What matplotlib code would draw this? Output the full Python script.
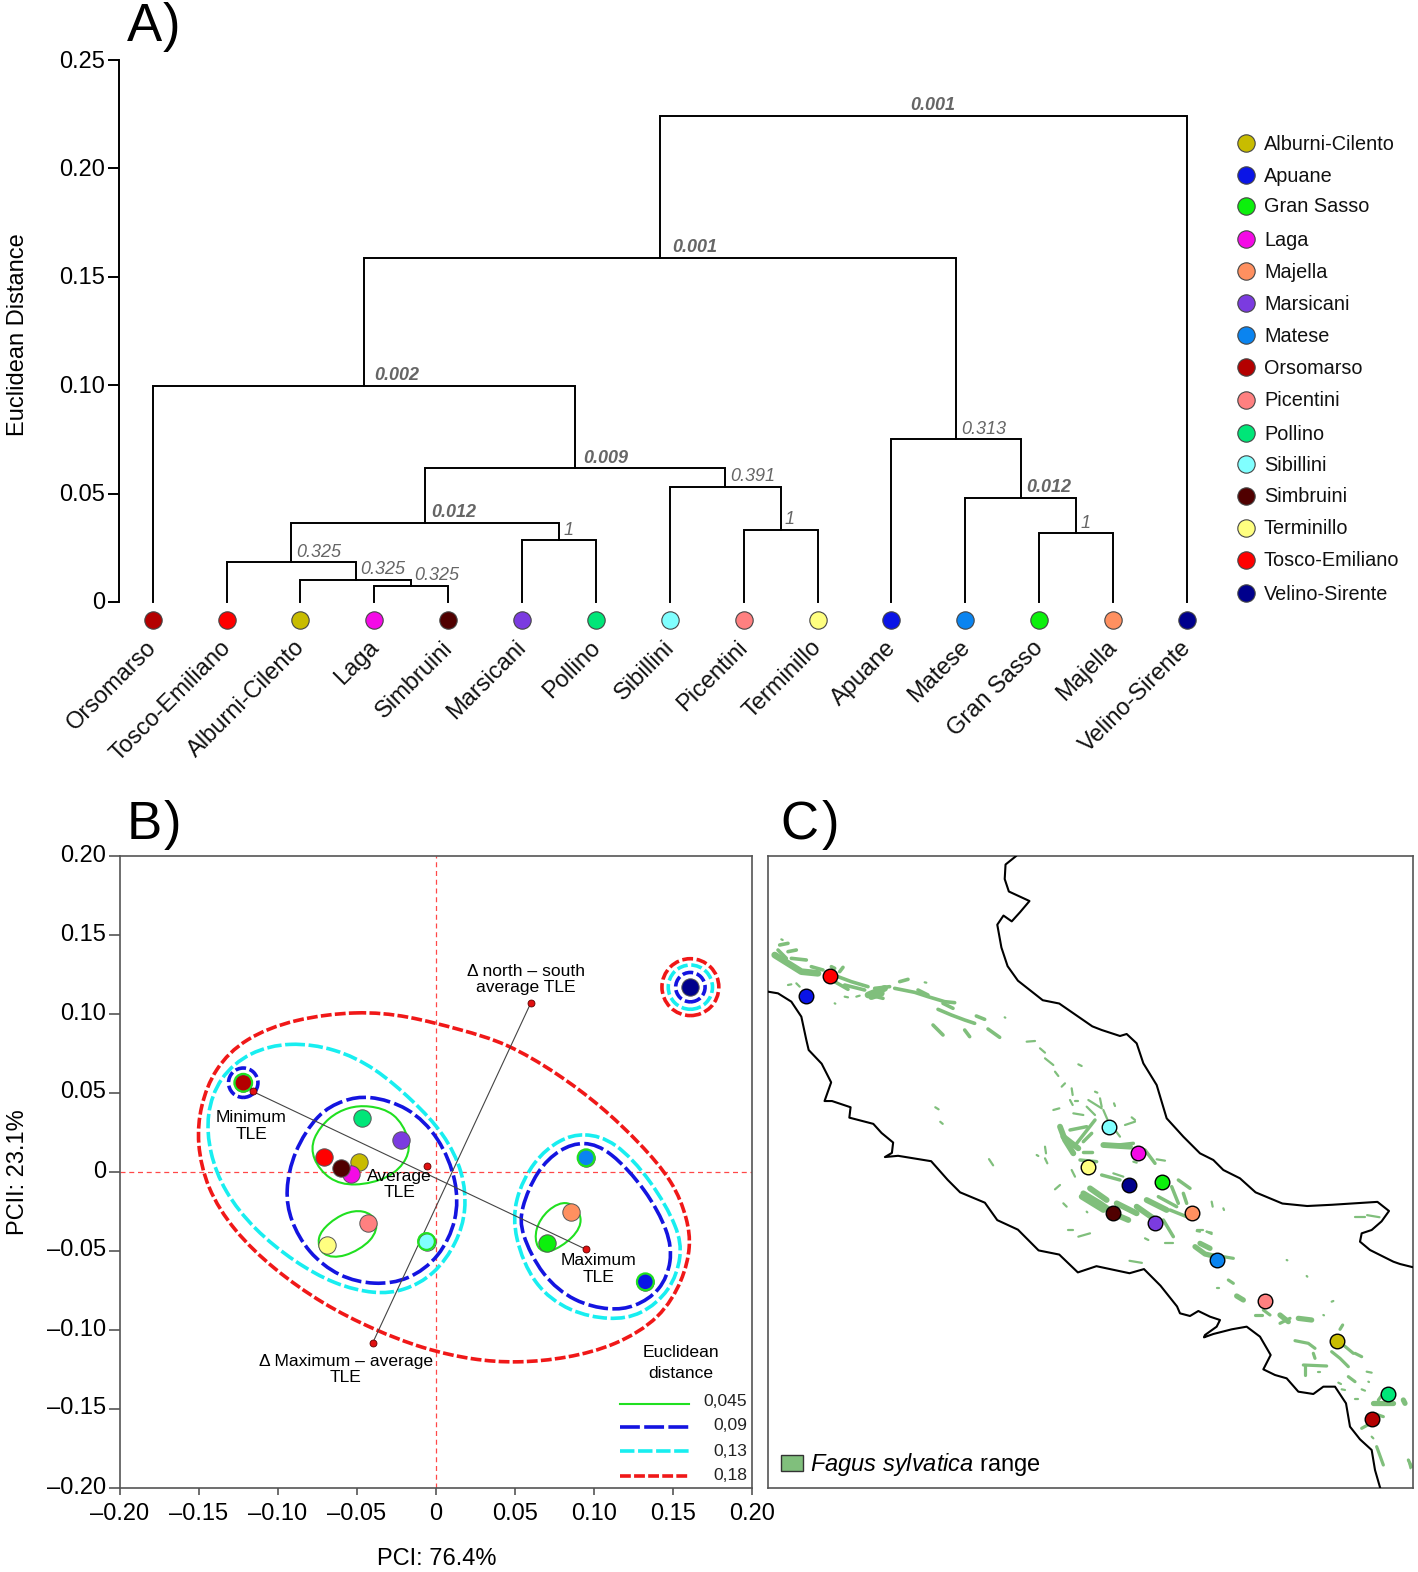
import numpy as np
import matplotlib
matplotlib.use('Agg')
import matplotlib.pyplot as plt
from matplotlib.path import Path
from matplotlib.patches import PathPatch, Circle, Rectangle
from matplotlib.transforms import ScaledTranslation

plt.rcParams['font.family'] = ['Liberation Sans', 'DejaVu Sans']
plt.rcParams['mathtext.fontset'] = 'custom'
plt.rcParams['mathtext.it'] = 'Liberation Sans:italic'
plt.rcParams['mathtext.rm'] = 'Liberation Sans'

W, H = 1418, 1572

# ---- data
legend_names = ['Alburni-Cilento', 'Apuane', 'Gran Sasso', 'Laga', 'Majella', 'Marsicani', 'Matese', 'Orsomarso',
                'Picentini', 'Pollino', 'Sibillini', 'Simbruini', 'Terminillo', 'Tosco-Emiliano', 'Velino-Sirente']
legend_y = [143, 175, 206, 239, 271, 303, 335, 367, 400, 433, 464, 496, 528, 560, 593]
colors = {'Alburni-Cilento': '#c8bc00', 'Apuane': '#0a14e6', 'Gran Sasso': '#0cf00c', 'Laga': '#f40ae6',
          'Majella': '#ff9060', 'Marsicani': '#7b3be0', 'Matese': '#0a84f0', 'Orsomarso': '#b40000',
          'Picentini': '#ff8080', 'Pollino': '#00e678', 'Sibillini': '#80ffff', 'Simbruini': '#500000',
          'Terminillo': '#ffff80', 'Tosco-Emiliano': '#ff0000', 'Velino-Sirente': '#00008c'}

leaves = ['Orsomarso', 'Tosco-Emiliano', 'Alburni-Cilento', 'Laga', 'Simbruini', 'Marsicani', 'Pollino', 'Sibillini',
          'Picentini', 'Terminillo', 'Apuane', 'Matese', 'Gran Sasso', 'Majella', 'Velino-Sirente']
# children ids (0-14 leaves, 15+ merges in order), height, support, bold, label x shift in px
merge_a = [3, 2, 1, 5, 17, 8, 7, 19, 0, 12, 11, 10, 23, 27]
merge_b = [4, 15, 16, 6, 18, 9, 20, 21, 22, 13, 24, 25, 26, 14]
merge_h = [0.0076, 0.0103, 0.0184, 0.0286, 0.0366, 0.0334, 0.0532, 0.0617, 0.0998, 0.0316, 0.0482, 0.0751, 0.1588, 0.2244]
merge_lab = ['0.325', '0.325', '0.325', '1', '0.012', '1', '0.391', '0.009', '0.002', '1', '0.012', '0.313', '0.001', '0.001']
merge_bold = [0, 0, 0, 0, 1, 0, 0, 1, 1, 0, 1, 0, 1, 1]
merge_shift = [3, 4, 5, 4, 6, 4, 5, 8, 10, 4, 5, 5, 12, -13]

pca_names = ['Orsomarso', 'Tosco-Emiliano', 'Alburni-Cilento', 'Laga', 'Simbruini', 'Marsicani', 'Pollino', 'Sibillini',
             'Picentini', 'Terminillo', 'Apuane', 'Matese', 'Gran Sasso', 'Majella', 'Velino-Sirente']
pca_x = [-0.122, -0.071, -0.049, -0.054, -0.060, -0.022, -0.047, -0.006, -0.043, -0.069, 0.1325, 0.095, 0.070, 0.0855, 0.161]
pca_y = [0.0565, 0.0095, 0.0065, -0.001, 0.0025, 0.020, 0.034, -0.044, -0.032, -0.046, -0.0695, 0.009, -0.045, -0.025, 0.117]

red_hull = [(-0.049, 0.101), (-0.018, 0.098), (0.016, 0.089), (0.044, 0.081), (0.076, 0.062), (0.104, 0.041),
            (0.128, 0.018), (0.149, -0.006), (0.158, -0.030), (0.160, -0.047), (0.155, -0.068), (0.141, -0.092),
            (0.113, -0.109), (0.082, -0.117), (0.051, -0.120), (0.023, -0.118), (-0.008, -0.111), (-0.039, -0.099),
            (-0.071, -0.083), (-0.102, -0.061), (-0.127, -0.037), (-0.144, -0.010), (-0.150, 0.018), (-0.148, 0.041),
            (-0.139, 0.065), (-0.120, 0.084), (-0.089, 0.096)]
cyan_left = [(-0.092, 0.081), (-0.064, 0.077), (-0.039, 0.065), (-0.015, 0.044), (0.004, 0.024), (0.016, 0),
             (0.018, -0.024), (0.012, -0.044), (-0.002, -0.064), (-0.021, -0.074), (-0.039, -0.076), (-0.064, -0.070),
             (-0.089, -0.056), (-0.114, -0.036), (-0.133, -0.012), (-0.142, 0.012), (-0.144, 0.036), (-0.136, 0.059),
             (-0.117, 0.075)]
blue_left = [(-0.043, 0.047), (-0.018, 0.040), (0.001, 0.021), (0.012, -0.006), (0.012, -0.030), (0.001, -0.053),
             (-0.018, -0.067), (-0.039, -0.070), (-0.061, -0.065), (-0.080, -0.050), (-0.091, -0.030), (-0.094, -0.012),
             (-0.089, 0.012), (-0.074, 0.036), (-0.058, 0.044)]
cyan_right = [(0.094, 0.023), (0.113, 0.018), (0.135, -0.006), (0.152, -0.036), (0.154, -0.053), (0.147, -0.074),
              (0.129, -0.089), (0.110, -0.092), (0.085, -0.087), (0.063, -0.071), (0.051, -0.041), (0.051, -0.018),
              (0.063, 0.006), (0.079, 0.019)]
blue_right = [(0.094, 0.018), (0.110, 0.012), (0.132, -0.012), (0.146, -0.038), (0.148, -0.056), (0.141, -0.074),
              (0.125, -0.084), (0.110, -0.086), (0.088, -0.081), (0.068, -0.065), (0.055, -0.038), (0.055, -0.024),
              (0.065, 0), (0.079, 0.013)]
green_big = [(-0.043, 0.041), (-0.027, 0.037), (-0.018, 0.021), (-0.019, 0.009), (-0.030, -0.003), (-0.052, -0.008),
             (-0.067, -0.004), (-0.077, 0.009), (-0.077, 0.021), (-0.067, 0.034), (-0.055, 0.040)]
green_low = [(-0.047, -0.025), (-0.038, -0.031), (-0.041, -0.043), (-0.058, -0.053), (-0.071, -0.052), (-0.074, -0.041),
             (-0.067, -0.033), (-0.058, -0.027)]
green_right = [(0.083, -0.019), (0.092, -0.030), (0.086, -0.041), (0.072, -0.050), (0.065, -0.047), (0.064, -0.036),
               (0.071, -0.025)]

tle_x = [-0.116, 0.095]
tle_y = [0.051, -0.049]
ns_x = [0.060, -0.040]
ns_y = [0.107, -0.108]
avg_xy = (-0.006, 0.0035)

ticks_b = [-0.20, -0.15, -0.10, -0.05, 0, 0.05, 0.10, 0.15, 0.20]
ticklabels_b = ['\u20130.20', '\u20130.15', '\u20130.10', '\u20130.05', '0', '0.05', '0.10', '0.15', '0.20']
ticks_a = [0, 0.05, 0.10, 0.15, 0.20, 0.25]
ticklabels_a = ['0', '0.05', '0.10', '0.15', '0.20', '0.25']

CROP_ALL = (770, 850, 2.42, 2.41)
CROP_N = (768, 930, 3, 3)
CROP_C = (1020, 1030, 3, 3)
CROP_S = (1180, 1230, 3, 3)

ne_1 = [(595, 15), (570, 35), (568, 70), (578, 100), (628, 123), (605, 150), (585, 172), (565, 158), (550, 180),
        (560, 235), (575, 280), (600, 315), (660, 362), (700, 370), (780, 425)]
ne_2 = [(245, 0), (300, 18), (320, 12), (350, 40), (370, 100), (410, 165), (440, 265), (490, 320), (540, 370),
        (580, 390), (610, 420), (660, 445)]
ne_3 = [(1175, 825), (1240, 852), (1300, 858), (1360, 855), (1470, 848), (1498, 870), (1480, 895)]
ne_4 = [(575, 0), (545, 10), (540, 35), (570, 60), (640, 95), (660, 102), (700, 112)]
sw_1 = [(0, 185), (30, 190), (70, 215), (100, 260), (115, 330), (122, 360)]
sw_2 = [(125, 515), (148, 560), (132, 605), (150, 605), (195, 620), (192, 645), (250, 660), (270, 682), (298, 705),
        (295, 730), (278, 740), (310, 737), (390, 750), (430, 795), (460, 825), (520, 850), (550, 892), (600, 915),
        (650, 965), (700, 975), (745, 1018), (790, 1003), (870, 1020), (905, 1010), (945, 1050), (985, 1100)]
sw_3 = [(0, 250), (30, 258), (55, 243), (90, 260), (120, 270), (110, 290), (75, 315), (72, 322), (100, 312), (155, 298),
        (200, 290), (240, 320), (272, 375), (250, 418), (285, 435), (320, 445), (355, 485), (400, 492), (430, 470),
        (465, 470), (498, 520), (510, 590), (540, 628), (575, 660), (585, 720), (600, 772)]

north_thick = [[(20, 75), (60, 100), (100, 125), (150, 130)], [(300, 195), (350, 175)], [(310, 200), (340, 190)]]
north_mid = [[(35, 45), (60, 40)], [(30, 60), (55, 85)], [(60, 65), (85, 60)], [(70, 85), (115, 90)], [(130, 110), (165, 120)],
             [(190, 110), (200, 115)], [(215, 125), (225, 112)], [(210, 140), (250, 155), (300, 170)], [(200, 155), (240, 178)],
             [(230, 165), (290, 180)], [(305, 195), (345, 205)], [(320, 175), (365, 170)],
             [(380, 175), (440, 187), (480, 200), (530, 215), (560, 218)], [(450, 180), (480, 195)], [(395, 155), (420, 148)],
             [(510, 238), (550, 255), (590, 270), (620, 280)], [(525, 220), (555, 235)], [(495, 285), (525, 315)],
             [(590, 300), (605, 320)], [(625, 258), (650, 268)], [(660, 297), (695, 322)]]
north_thin = [[(60, 165), (70, 163)], [(85, 160), (95, 170)], [(230, 200), (240, 202)], [(265, 200), (275, 197)],
              [(470, 157), (475, 158)], [(200, 220), (202, 221)], [(710, 262), (712, 263)], [(120, 195), (130, 205)], [(40, 28), (44, 30)]]

center_thick = [[(120, 290), (135, 330), (160, 370)], [(130, 320), (175, 355)], [(190, 490), (240, 520), (290, 555), (325, 570)],
                [(185, 500), (250, 540)], [(210, 475), (260, 510)], [(290, 520), (350, 550)], [(350, 530), (400, 565)],
                [(380, 510), (440, 540)], [(250, 345), (330, 350)]]
center_mid = [[(170, 340), (225, 270)], [(190, 335), (215, 310)], [(150, 300), (200, 290)], [(190, 365), (215, 365)],
              [(180, 390), (230, 395)], [(245, 435), (300, 450)], [(295, 345), (340, 340)], [(375, 360), (405, 400)],
              [(430, 570), (460, 620)], [(415, 500), (470, 530)], [(455, 470), (475, 520)], [(475, 450), (510, 475)],
              [(490, 490), (500, 520)], [(450, 540), (500, 560)]]
center_thin = [[(20, 35), (45, 33)], [(60, 55), (75, 68)], [(75, 85), (100, 105)], [(105, 125), (115, 138)], [(175, 103), (185, 108)],
               [(125, 170), (135, 160)], [(155, 175), (158, 195)], [(150, 210), (158, 225)], [(100, 240), (118, 235)],
               [(165, 212), (175, 212)], [(200, 230), (225, 255)], [(205, 210), (245, 235)], [(240, 205), (245, 230)],
               [(160, 250), (190, 255)], [(225, 185), (232, 188)], [(282, 220), (285, 228)], [(250, 240), (262, 268)],
               [(155, 420), (165, 440)], [(280, 430), (310, 440)], [(285, 300), (300, 320)], [(315, 285), (345, 275)],
               [(335, 262), (345, 270)], [(410, 388), (435, 392)], [(340, 395), (350, 398)], [(75, 350), (78, 370)],
               [(50, 375), (55, 378)], [(75, 385), (82, 400)], [(105, 478), (120, 465)], [(130, 520), (140, 530)],
               [(575, 515), (578, 530)], [(610, 535), (612, 540)], [(530, 600), (550, 600)], [(560, 605), (575, 612)],
               [(145, 600), (160, 600)], [(175, 620), (210, 610)], [(375, 625), (385, 630)], [(435, 640), (460, 640)],
               [(200, 545), (202, 547)]]

south_thick = [[(45, 50), (75, 72), (100, 78)], [(60, 40), (90, 55)], [(170, 198), (190, 210)], [(300, 255), (325, 275)],
               [(355, 265), (395, 270)], [(580, 520), (640, 520)], [(670, 510), (675, 520)]]
south_mid = [[(130, 80), (160, 85)], [(145, 150), (160, 160)], [(225, 255), (245, 255)], [(250, 240), (270, 255)],
             [(300, 280), (330, 265)], [(345, 332), (385, 340), (405, 355)], [(400, 370), (405, 385)], [(370, 405), (440, 408)],
             [(375, 405), (375, 435)], [(455, 365), (480, 385), (505, 410)], [(490, 345), (520, 370)], [(525, 370), (545, 380)],
             [(505, 440), (525, 455)], [(610, 490), (595, 510)], [(545, 595), (590, 570)], [(580, 550), (610, 560)],
             [(590, 650), (610, 705)], [(685, 690), (695, 710)], [(480, 298), (488, 285)]]
south_thin = [[(80, 5), (95, 8)], [(50, 3), (60, 5)], [(110, 173), (118, 173)], [(430, 255), (432, 256)], [(455, 215), (460, 213)],
              [(380, 138), (382, 140)], [(320, 90), (322, 91)], [(415, 425), (420, 425)], [(560, 425), (575, 428)],
              [(475, 458), (483, 462)], [(545, 478), (555, 482)], [(485, 478), (495, 480)], [(525, 508), (535, 508)],
              [(575, 620), (580, 625)], [(565, 455), (567, 456)]]
other_thin = [[(1415, 885), (1440, 885)], [(1445, 880), (1475, 885)], [(870, 990), (900, 995)], [(400, 620), (408, 625)],
              [(412, 655), (418, 660)], [(530, 745), (540, 760)], [(1545, 1470), (1550, 1490)]]

map_names = ['Tosco-Emiliano', 'Apuane', 'Sibillini', 'Laga', 'Terminillo', 'Velino-Sirente', 'Gran Sasso', 'Simbruini',
             'Marsicani', 'Majella', 'Matese', 'Picentini', 'Alburni-Cilento', 'Pollino', 'Orsomarso']
map_x = [146, 86, 820, 890, 770, 869, 948, 831, 931, 1021, 1082, 1198, 1372, 1496, 1458]
map_y = [303, 351, 667, 730, 765, 808, 799, 876, 899, 875, 988, 1087, 1183, 1312, 1372]


def axes_px(fig, left, top, right, bottom):
    return fig.add_axes([left / W, 1 - bottom / H, (right - left) / W, (bottom - top) / H])


def crop_to_px(pts, crop):
    p = np.array(pts, dtype=float)
    return np.c_[crop[0] + p[:, 0] / crop[2], crop[1] + p[:, 1] / crop[3]]


def closed_path(pts):
    # closed cubic b-spline over the traced points, scaled so it stays on the trace
    p = np.array(pts)
    n = len(p)
    c = p.mean(axis=0)
    p = c + (p - c) * 6 / (4 + 2 * np.cos(2 * np.pi / n))
    start = (p[-1] + 4 * p[0] + p[1]) / 6
    verts = [start]
    codes = [Path.MOVETO]
    for i in range(n):
        p1, p2, p3 = p[i], p[(i + 1) % n], p[(i + 2) % n]
        verts += [(2 * p1 + p2) / 3, (p1 + 2 * p2) / 3, (p1 + 4 * p2 + p3) / 6]
        codes += [Path.CURVE4] * 3
    return Path(verts, codes)


def hull(ax, pts, color, lw, dash):
    ax.add_patch(PathPatch(closed_path(pts), fc='none', ec=color, lw=lw, ls=(0, dash) if dash else '-', zorder=3))


def lift_labels(fig, ax, px):
    # y tick labels sit a little above their ticks in the reference
    for lab in ax.get_yticklabels():
        lab.set_transform(lab.get_transform() + ScaledTranslation(0, px / 100, fig.dpi_scale_trans))


fig = plt.figure(figsize=(W / 100, H / 100), dpi=100)

# ---- A) dendrogram
ax = axes_px(fig, 119, 60, 1196, 602)
step = (1187 - 152.7) / 14
ax.set_xlim(-(152.7 - 119) / step, 14 + (1196 - 1187) / step)
ax.set_ylim(0, 0.25)
for s in ['top', 'right', 'bottom']:
    ax.spines[s].set_visible(False)
ax.spines['left'].set_linewidth(1.4)
ax.set_xticks([])
ax.set_yticks(ticks_a)
ax.set_yticklabels(ticklabels_a, fontsize=17)
ax.tick_params(axis='y', length=8, width=1.4, pad=2)
lift_labels(fig, ax, 1)
ax.patch.set_alpha(0)

pos = {i: (float(i), 0.0) for i in range(15)}
for k in range(len(merge_h)):
    xa, ya = pos[merge_a[k]]
    xb, yb = pos[merge_b[k]]
    h = merge_h[k]
    ax.plot([xa, xa, xb, xb], [ya, h, h, yb], color='black', lw=1.4, solid_joinstyle='miter', clip_on=False)
    xm = (xa + xb) / 2
    pos[15 + k] = (xm, h)
    ax.annotate(merge_lab[k], (xm, h), xytext=(merge_shift[k] * 0.72, 1), textcoords='offset points', ha='left', va='bottom',
                fontsize=13, style='italic', fontweight='bold' if merge_bold[k] else 'normal', color='#666666')

for i, name in enumerate(leaves):
    ax.plot([i], [-0.0083], 'o', ms=12.5, mfc=colors[name], mec='#444444', mew=0.8, clip_on=False)
    ax.annotate(name, (i, -0.0083), xytext=(-5, -12), textcoords='offset points', rotation=45, rotation_mode='anchor',
                ha='right', va='top', fontsize=17, color='#111111', annotation_clip=False)

for name, y in zip(legend_names, legend_y):
    fig.add_artist(plt.Line2D([1246 / W], [1 - y / H], marker='o', ms=12.5, mfc=colors[name], mec='#444444', mew=0.8))
    fig.text(1264 / W, 1 - (y + 1) / H, name, fontsize=14.3, va='center', ha='left', color='#111111')

fig.text(18 / W, 1 - 335 / H, 'Euclidean Distance', fontsize=17, rotation=90, va='center', ha='center')
fig.text(127 / W, 1 - 27 / H, 'A', fontsize=38, va='center', ha='left')
fig.text(180 / W, 1 - 27 / H, ')', fontsize=38, va='center', ha='right')
fig.text(127 / W, 1 - 825 / H, 'B', fontsize=38, va='center', ha='left')
fig.text(181 / W, 1 - 825 / H, ')', fontsize=38, va='center', ha='right')
fig.text(780 / W, 1 - 825 / H, 'C', fontsize=38, va='center', ha='left')
fig.text(839 / W, 1 - 825 / H, ')', fontsize=38, va='center', ha='right')

# ---- B) PCA
ax = axes_px(fig, 120, 856, 752, 1488)
ax.set_xlim(-0.2, 0.2)
ax.set_ylim(-0.2, 0.2)
for s in ax.spines.values():
    s.set_color('#555555')
    s.set_linewidth(1.2)
ax.set_xticks(ticks_b)
ax.set_xticklabels(ticklabels_b, fontsize=17)
ax.set_yticks(ticks_b)
ax.set_yticklabels(ticklabels_b, fontsize=17)
ax.tick_params(axis='y', length=8, width=1.2, color='#555555', pad=2)
ax.tick_params(axis='x', length=5, width=1.2, color='#555555', pad=5.5)
lift_labels(fig, ax, 3)
ax.axhline(0, color='#ff4848', lw=0.9, ls=(0, (4, 3)))
ax.axvline(0, color='#ff4848', lw=0.9, ls=(0, (4, 3)))

hull(ax, red_hull, '#f01818', 2.6, (3, 0.9))
hull(ax, cyan_left, '#18eef0', 2.6, (4, 1))
hull(ax, cyan_right, '#18eef0', 2.6, (4, 1))
hull(ax, blue_left, '#1414e0', 2.6, (5.5, 1.2))
hull(ax, blue_right, '#1414e0', 2.6, (5.5, 1.2))
hull(ax, green_big, '#20e020', 1.5, None)
hull(ax, green_low, '#20e020', 1.5, None)
hull(ax, green_right, '#20e020', 1.5, None)

ax.plot(tle_x, tle_y, color='#444444', lw=0.8, zorder=4)
ax.plot(ns_x, ns_y, color='#444444', lw=0.8, zorder=4)
ax.plot(tle_x + ns_x + [avg_xy[0]], tle_y + ns_y + [avg_xy[1]], 'o', ms=5, mfc='#e01010', mec='#600000', mew=0.6, ls='none', zorder=7)

for name, x, y in zip(pca_names, pca_x, pca_y):
    ax.plot([x], [y], 'o', ms=12.5, mfc=colors[name], mec='#555555', mew=0.7, zorder=5)

ring_xy = [(-0.122, 0.0565), (-0.122, 0.0565), (0.161, 0.117), (0.161, 0.117), (0.161, 0.117),
           (0.1325, -0.0695), (0.095, 0.009), (-0.006, -0.044)]
ring_r = [0.0056, 0.0093, 0.0093, 0.014, 0.018, 0.0053, 0.0053, 0.0053]
ring_c = ['#20e020', '#1414e0', '#1414e0', '#18eef0', '#f01818', '#20e020', '#20e020', '#20e020']
ring_d = [None, (3, 1), (3, 1), (3, 1), (3, 1), None, None, None]
for xy, r, c, d in zip(ring_xy, ring_r, ring_c, ring_d):
    ax.add_patch(Circle(xy, r, fc='none', ec=c, lw=1.6 if d is None else 2.6, ls=(0, d) if d else '-', zorder=6))

note_size = 12.6
ax.text(0.057, 0.122, '\u0394 north \u2013 south\naverage TLE', fontsize=note_size, ha='center', va='center', linespacing=1.12, zorder=8)
ax.text(-0.117, 0.029, 'Minimum\nTLE', fontsize=note_size, ha='center', va='center', linespacing=1.12, zorder=8)
ax.text(-0.023, -0.008, 'Average\nTLE', fontsize=note_size, ha='center', va='center', linespacing=1.12, zorder=8)
ax.text(0.103, -0.0615, 'Maximum\nTLE', fontsize=note_size, ha='center', va='center', linespacing=1.12, zorder=8)
ax.text(-0.057, -0.125, '\u0394 Maximum \u2013 average\nTLE', fontsize=note_size, ha='center', va='center', linespacing=1.12, zorder=8)

fx = lambda px: (px - 120) / 632
fy = lambda py: (1488 - py) / 632
ax.text(fx(681), fy(1363), 'Euclidean\ndistance', transform=ax.transAxes, fontsize=12.6, ha='center', va='center', linespacing=1.45)
key_y = [1404, 1427, 1451, 1476]
key_text_y = [1401, 1426, 1451, 1475]
key_lab = ['0,045', '0,09', '0,13', '0,18']
key_c = ['#20e020', '#1414e0', '#18eef0', '#f01818']
key_ls = ['-', (0, (5.5, 1.2)), (0, (4, 1)), (0, (3, 0.9))]
key_lw = [1.5, 2.6, 2.6, 2.6]
for y, ty, lab, c, ls, lw in zip(key_y, key_text_y, key_lab, key_c, key_ls, key_lw):
    ax.plot([fx(620), fx(689)], [fy(y), fy(y)], transform=ax.transAxes, color=c, ls=ls, lw=lw)
    ax.text(fx(747), fy(ty), lab, transform=ax.transAxes, fontsize=12.6, ha='right', va='center', color='#222222')

fig.text(18 / W, 1 - 1172 / H, 'PCII: 23.1%', fontsize=17, rotation=90, va='center', ha='center')
fig.text(437 / W, 1 - 1559 / H, 'PCI: 76.4%', fontsize=17, va='center', ha='center')

# ---- C) map, in full picture pixels
ax = axes_px(fig, 768, 856, 1413, 1488)
ax.set_xlim(768, 1413)
ax.set_ylim(1488, 856)
ax.set_xticks([])
ax.set_yticks([])
for s in ax.spines.values():
    s.set_color('#555555')
    s.set_linewidth(1.2)

beech = [(north_thick, CROP_N, 4.8), (north_mid, CROP_N, 2.6), (north_thin, CROP_N, 1.6),
         (center_thick, CROP_C, 4.2), (center_mid, CROP_C, 2.5), (center_thin, CROP_C, 1.6),
         (south_thick, CROP_S, 3.8), (south_mid, CROP_S, 2.3), (south_thin, CROP_S, 1.6),
         (other_thin, CROP_ALL, 1.6)]
for group, crop, lw in beech:
    for stroke in group:
        xy = crop_to_px(stroke, crop)
        ax.plot(xy[:, 0], xy[:, 1], color='#80bf7c', lw=lw, solid_capstyle='round', zorder=2)

ne = np.vstack([crop_to_px(ne_1, CROP_ALL), crop_to_px(ne_2, CROP_C), crop_to_px(ne_3, CROP_ALL), crop_to_px(ne_4, CROP_S)])
sw = np.vstack([crop_to_px(sw_1, CROP_N), crop_to_px(sw_2, CROP_ALL), crop_to_px(sw_3, CROP_S)])
ax.plot(ne[:, 0], ne[:, 1], color='black', lw=1.5, zorder=3, solid_joinstyle='round')
ax.plot(sw[:, 0], sw[:, 1], color='black', lw=1.5, zorder=3, solid_joinstyle='round')

mxy = crop_to_px(list(zip(map_x, map_y)), CROP_ALL)
for name, (x, y) in zip(map_names, mxy):
    ax.plot([x], [y], 'o', ms=10.5, mfc=colors[name], mec='black', mew=1.0, zorder=4)
ax.add_patch(Rectangle((781, 1455), 22, 16, fc='#80bf7c', ec='#333333', lw=1.0, zorder=4))
ax.text(810, 1464, r'$\it{Fagus\ sylvatica}$ range', fontsize=17, ha='left', va='center', zorder=4)

fig.savefig('out.png', dpi=100)
